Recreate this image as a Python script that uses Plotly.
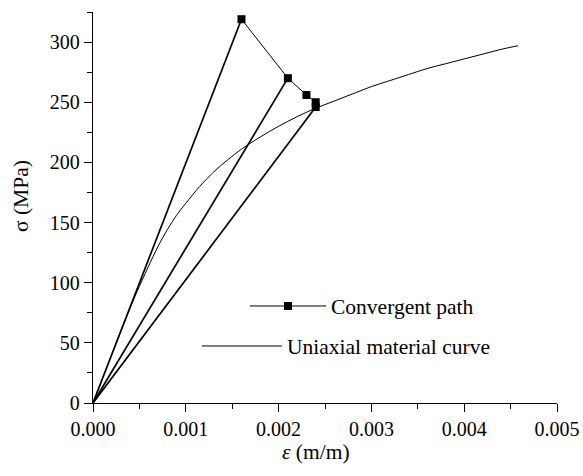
import plotly.graph_objects as go

# Uniaxial stress-strain curve of the material
curve_strain = [0, 0.0002, 0.0004, 0.0005, 0.0006, 0.0007, 0.0008, 0.0009, 0.0010,
                0.00115, 0.0013, 0.00145, 0.0016, 0.0018, 0.0020, 0.0022, 0.0024,
                0.0026, 0.0028, 0.0030, 0.0032, 0.0034, 0.0036, 0.0038, 0.0040,
                0.0042, 0.0044, 0.00458]
curve_stress = [0, 40, 79, 97, 114, 130, 144, 156, 166,
                180, 192, 202, 211, 221, 230, 238, 245,
                251, 257, 263, 268, 273, 278, 282, 286,
                290, 294, 297]

# Iterates of the convergent solution path
path_strain = [0.0016, 0.0021, 0.0023, 0.0024, 0.0024]
path_stress = [319, 270, 256, 250, 246]

# Secant lines drawn from the origin to these iterates
secant_index = [0, 1, 4]

FONT = "Liberation Serif"

# Plot-area geometry in pixels (used to place legends and titles)
L, R, T, B = 93, 557, 12, 403
W, H = R - L, B - T


def px_x(x):
    return (x - L) / W


def px_y(y):
    return (B - y) / H


fig = go.Figure()

for i in secant_index:
    fig.add_trace(go.Scatter(
        x=[0, path_strain[i]], y=[0, path_stress[i]],
        mode="lines", line=dict(color="black", width=1.7),
        showlegend=False, hoverinfo="skip"))

fig.add_trace(go.Scatter(
    x=curve_strain, y=curve_stress, mode="lines", line_shape="spline",
    line=dict(color="black", width=1),
    name="Uniaxial material curve", legend="legend2"))

fig.add_trace(go.Scatter(
    x=path_strain, y=path_stress, mode="lines+markers",
    line=dict(color="black", width=1),
    marker=dict(symbol="square", size=8, color="black"),
    name="Convergent path", legend="legend"))

legend_common = dict(
    font=dict(family=FONT, size=21.5, color="black"),
    bgcolor="rgba(0,0,0,0)",
    xanchor="left", yanchor="middle", tracegroupgap=0)

fig.update_layout(
    width=583, height=476,
    margin=dict(l=L, r=583 - R, t=T, b=476 - B),
    paper_bgcolor="white", plot_bgcolor="white",
    font=dict(family=FONT, size=20, color="black"),
    legend=dict(x=px_x(245), y=px_y(306), itemwidth=76, **legend_common),
    legend2=dict(x=px_x(197), y=px_y(346), itemwidth=80, **legend_common),
    xaxis=dict(
        range=[0, 0.005], dtick=0.001, tick0=0, tickformat=".3f",
        automargin=False,
        showline=True, linecolor="black", linewidth=1.3,
        ticks="outside", ticklen=8, tickwidth=1.3, tickcolor="black",
        minor=dict(dtick=0.0005, ticks="outside", ticklen=5, tickwidth=1.3, tickcolor="black"),
        showgrid=False, zeroline=False,
    ),
    yaxis=dict(
        range=[0, 325], dtick=50, tick0=0,
        automargin=False,
        showline=True, linecolor="black", linewidth=1.3,
        ticks="outside", ticklen=8, tickwidth=1.3, tickcolor="black",
        minor=dict(dtick=25, ticks="outside", ticklen=5, tickwidth=1.3, tickcolor="black"),
        showgrid=False, zeroline=False,
    ),
    annotations=[
        dict(text="<i>ε</i> (m/m)", xref="paper", yref="paper",
             x=px_x(316), y=px_y(452), xanchor="center", yanchor="middle",
             showarrow=False, font=dict(family=FONT, size=21.5)),
        dict(text="σ (MPa)", xref="paper", yref="paper",
             x=px_x(21), y=px_y(196), xanchor="center", yanchor="middle",
             textangle=-90, showarrow=False, font=dict(family=FONT, size=21.5)),
    ],
)

fig.write_html("out.html")
